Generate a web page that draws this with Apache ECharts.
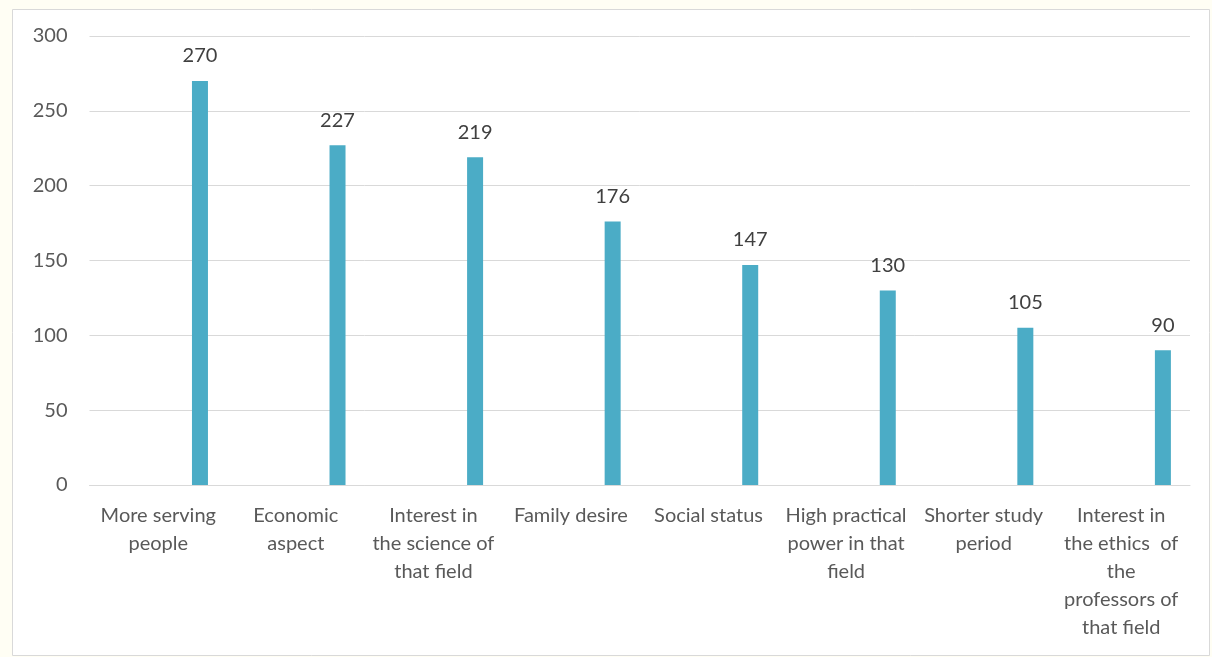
<!DOCTYPE html>
<html>
<head>
<meta charset="utf-8">
<script src="https://cdn.jsdelivr.net/npm/echarts@6/dist/echarts.min.js"></script>
<style>
html,body{margin:0;padding:0;background:#fffef4;}
#chart{width:1212px;height:657px;}
</style>
</head>
<body>
<div id="chart"></div>
<script>
const categories = [
  'More serving\npeople',
  'Economic\naspect',
  'Interest in\nthe science of\nthat field',
  'Family desire',
  'Social status',
  'High practical\npower in that\nfield',
  'Shorter study\nperiod',
  'Interest in\nthe ethics  of\nthe\nprofessors of\nthat field'
];
const values = [270, 227, 219, 176, 147, 130, 105, 90];
const yTicks = [0, 50, 100, 150, 200, 250, 300];

const chart = echarts.init(document.getElementById('chart'), null, {renderer: 'canvas'});
const font = 'Lato, "Open Sans", sans-serif';
chart.setOption({
  animation: false,
  backgroundColor: 'transparent',
  graphic: [{
    type: 'rect', z: -10, silent: true,
    shape: {x: 12.5, y: 9.5, width: 1197, height: 646},
    style: {fill: '#ffffff', stroke: '#d9d9d9', lineWidth: 1}
  }],
  grid: {left: 89.5, right: 22, top: 36, bottom: 172, containLabel: false},
  xAxis: {
    type: 'category',
    data: categories,
    axisLine: {show: true, lineStyle: {color: '#d9d9d9', width: 1}},
    axisTick: {show: false},
    axisLabel: {
      interval: 0, color: '#595959', fontFamily: font, fontSize: 20,
      lineHeight: 28, margin: 17, align: 'center'
    }
  },
  yAxis: {
    type: 'value', min: yTicks[0], max: yTicks[yTicks.length - 1], interval: 50,
    axisLine: {show: false}, axisTick: {show: false},
    splitLine: {lineStyle: {color: '#d9d9d9', width: 1}},
    axisLabel: {color: '#595959', fontFamily: font, fontSize: 20, margin: 22}
  },
  series: [
    {type: 'bar', data: values.map(() => null), barWidth: 16, barGap: '421%', silent: true},
    {
      type: 'bar', data: values, barWidth: 16,
      itemStyle: {color: '#4bacc6'},
      label: {
        show: true, position: 'top', distance: 15,
        color: '#404040', fontFamily: font, fontSize: 20
      }
    }
  ]
});
</script>
</body>
</html>
